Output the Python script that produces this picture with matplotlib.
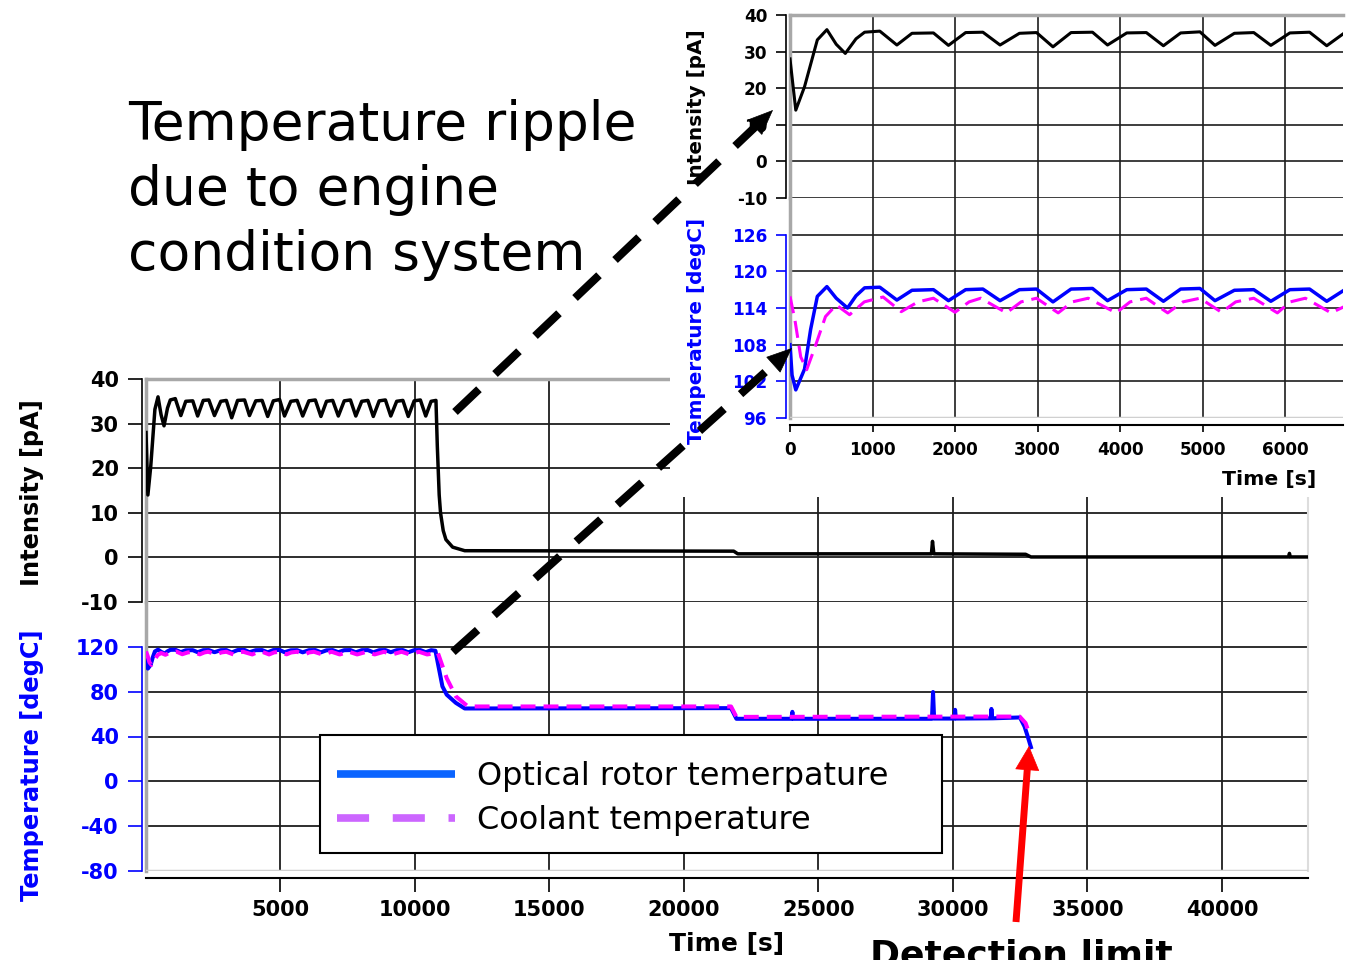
import numpy as np
import matplotlib
matplotlib.use("Agg")
import matplotlib.pyplot as plt
from matplotlib.lines import Line2D
from matplotlib.patches import Rectangle, FancyArrowPatch

plt.rcParams['font.family'] = ['DejaVu Sans']

W, H = 1352, 960

# ---------------------------------------------------------------- series
# sensor photo-current [pA] versus time [s]
intensity_t = [0, 70, 176, 331, 447, 560, 670, 800, 904, 1088, 1295, 1478, 1738, 1920,
               2128, 2337, 2545, 2780, 2987, 3186, 3405, 3665, 3847, 4080, 4317, 4524,
               4733, 4967, 5149, 5384, 5619, 5826, 6056, 6295, 6503, 6711, 6940, 7150,
               7370, 7600, 7800, 8020, 8250, 8450, 8670, 8900, 9100, 9320, 9550, 9750,
               9970, 10200, 10400, 10600, 10780, 10830, 10900, 10950, 11050, 11150,
               11400, 11850, 21850, 22000, 29200, 29240, 29290, 32700, 32900, 42480,
               42510, 42540, 43200]
intensity_v = [28.0, 14.0, 20.4, 33.2, 36.0, 32.0, 29.5, 33.5, 35.3, 35.6, 31.8, 35.0,
               35.1, 31.7, 35.2, 35.3, 31.8, 35.0, 35.2, 31.3, 35.2, 35.3, 31.8, 35.1,
               35.2, 31.6, 35.1, 35.4, 31.7, 35.0, 35.2, 31.7, 35.1, 35.3, 31.6, 35.0,
               35.2, 31.7, 35.1, 35.3, 31.7, 35.0, 35.2, 31.6, 35.1, 35.3, 31.7, 35.0,
               35.2, 31.6, 35.1, 35.3, 31.7, 35.0, 35.2, 25.0, 14.0, 10.0, 6.0, 4.0,
               2.3, 1.5, 1.4, 0.8, 0.8, 3.6, 0.8, 0.7, 0.1, 0.1, 0.9, 0.1, 0.1]

# optical rotor temperature [degC]
rotor_t = [0, 25, 70, 176, 250, 331, 447, 560, 697, 800, 904, 1088, 1295, 1478, 1738,
           1920, 2128, 2337, 2545, 2780, 2987, 3186, 3405, 3665, 3847, 4080, 4317, 4524,
           4733, 4967, 5149, 5384, 5619, 5826, 6056, 6295, 6503, 6711, 6940, 7150, 7370,
           7600, 7800, 8020, 8250, 8450, 8670, 8900, 9100, 9320, 9550, 9750, 9970,
           10200, 10400, 10600, 10760, 11020, 11180, 11520, 11850, 21750, 21950, 24000,
           24030, 24060, 29220, 29260, 29300, 30060, 30080, 30110, 31410, 31430, 31460,
           32490, 32660, 32780, 32900]
rotor_v = [108.0, 103.0, 100.6, 104.0, 110.5, 115.9, 117.5, 115.6, 114.0, 116.0, 117.3,
           117.4, 115.3, 116.9, 117.0, 115.2, 117.0, 117.1, 115.2, 117.0, 117.1, 115.0,
           117.1, 117.2, 115.2, 117.0, 117.1, 115.1, 117.1, 117.2, 115.2, 116.9, 117.0,
           115.1, 117.0, 117.1, 115.1, 116.9, 117.1, 115.2, 117.0, 117.1, 115.1, 117.0,
           117.1, 115.1, 117.0, 117.1, 115.2, 117.0, 117.1, 115.1, 117.0, 117.1, 115.2,
           117.0, 116.5, 84.7, 77.3, 70.0, 65.0, 65.3, 55.8, 55.8, 62.0, 55.8, 55.8,
           79.7, 56.0, 56.0, 63.8, 56.0, 56.2, 64.6, 56.2, 57.0, 49.0, 40.0, 30.5]

# coolant temperature [degC]
coolant_t = [0, 60, 130, 202, 300, 430, 560, 722, 900, 1128, 1348, 1550, 1738, 1999,
             2170, 2311, 2622, 2800, 2987, 3249, 3420, 3613, 3951, 4120, 4317, 4576,
             4760, 4967, 5228, 5400, 5619, 5905, 6060, 6244, 6556, 6711, 6900, 7200,
             7550, 7850, 8200, 8500, 8850, 9150, 9500, 9800, 10150, 10450, 10850, 11180,
             11520, 11930, 12100, 21750, 21950, 32480, 32700, 32870]
coolant_v = [115.9, 112.0, 106.0, 103.9, 107.5, 112.6, 114.5, 112.9, 115.0, 115.8,
             113.4, 115.0, 115.6, 113.3, 115.0, 115.6, 113.2, 115.0, 115.6, 113.2,
             115.0, 115.6, 113.2, 115.0, 115.6, 113.2, 115.0, 115.6, 113.3, 115.0,
             115.6, 113.2, 115.0, 115.6, 113.2, 114.2, 115.6, 113.2, 115.6, 113.2,
             115.6, 113.2, 115.6, 113.2, 115.6, 113.2, 115.6, 113.2, 114.7, 92.0,
             75.8, 67.6, 66.8, 66.8, 57.5, 57.8, 52.0, 40.3]

# axis ticks
main_xticks = [5000, 10000, 15000, 20000, 25000, 30000, 35000, 40000]
intensity_ticks = [-10, 0, 10, 20, 30, 40]
main_temp_ticks = [-80, -40, 0, 40, 80, 120]
zoom_xticks = [0, 1000, 2000, 3000, 4000, 5000, 6000]
zoom_temp_ticks = [96, 102, 108, 114, 120, 126]

legend_labels = ['Optical rotor temerpature', 'Coolant temperature']

BLUE = '#0000ff'
MAGENTA = '#ff00ff'
GRID = '#1e1e1e'
FRAME = '#a8a8a8'

fig = plt.figure(figsize=(W / 100, H / 100), dpi=100)
fig.patch.set_facecolor('white')


def px_box(x0, y0, x1, y1):
    return [x0 / W, 1 - y1 / H, (x1 - x0) / W, (y1 - y0) / H]


def panel(xs, ys, xlim, xticks, temp_lim, temp_ticks, st, z):
    x0, x1 = xs
    y_top, y_mid, y_bot = ys
    ax_i = fig.add_axes(px_box(x0, y_top, x1, y_mid), zorder=z)
    ax_t = fig.add_axes(px_box(x0, y_mid, x1, y_bot), sharex=ax_i, zorder=z)
    for ax in (ax_i, ax_t):
        ax.set_xlim(*xlim)
        ax.grid(True, color=GRID, lw=st['grid'])
        ax.set_axisbelow(True)
        ax.spines['right'].set_visible(st['right'])
        ax.spines['right'].set_color('#dddddd')
        ax.spines['right'].set_linewidth(1.5)
        ax.axvline(xlim[0], color=FRAME, lw=st['frame'], zorder=2.6, clip_on=False)
        ax.spines['left'].set_position(('outward', st['off']))
        ax.spines['left'].set_linewidth(1.2)

    # intensity part
    ax_i.set_ylim(-10, 40)
    ax_i.set_yticks(intensity_ticks, labels=[str(v) for v in intensity_ticks],
                    fontsize=st['fs'], fontweight='bold')
    ax_i.spines['bottom'].set_visible(False)
    ax_i.spines['top'].set_color(FRAME)
    ax_i.spines['top'].set_linewidth(st['frame'])
    ax_i.spines['left'].set_color('black')
    ax_i.tick_params(axis='x', bottom=False, labelbottom=False)
    ax_i.tick_params(axis='y', direction='out', length=st['tl'], width=1.2,
                     pad=st['pad'], colors='black')
    ax_i.plot(intensity_t, intensity_v, color='black', lw=st['lw_k'],
              solid_joinstyle='round', zorder=3)

    # temperature part
    ax_t.set_ylim(*temp_lim)
    ax_t.set_yticks(temp_ticks, labels=[str(v) for v in temp_ticks],
                    fontsize=st['fs'], fontweight='bold')
    ax_t.spines['top'].set_visible(False)
    ax_t.spines['left'].set_color(BLUE)
    ax_t.spines['left'].set_bounds(temp_ticks[0], temp_ticks[-1])
    ax_t.spines['bottom'].set_position(('outward', st['xoff']))
    ax_t.spines['bottom'].set_linewidth(1.5)
    ax_t.tick_params(axis='y', direction='out', length=st['tl'], width=1.2,
                     pad=st['pad'], colors=BLUE)
    ax_t.set_xticks(xticks, labels=[str(v) for v in xticks],
                    fontsize=st['fs'], fontweight='bold')
    ax_t.tick_params(axis='x', direction='out', length=st['xtl'], width=1.2,
                     pad=st['xpad'], colors='black')
    ax_t.axhline(temp_lim[0], color='#d0d0d0', lw=st['frame'], zorder=2.6)
    ax_t.plot(rotor_t, rotor_v, color=BLUE, lw=st['lw_b'], zorder=3)
    ax_t.plot(coolant_t, coolant_v, color=MAGENTA, lw=st['lw_m'],
              dashes=st['dash_m'], zorder=3.2)
    return ax_i, ax_t


main_style = dict(fs=15, tl=10, pad=6.5, off=3, xoff=5, xtl=10, xpad=6, grid=1.3,
                  frame=2.5, right=True, lw_k=2.5, lw_b=2.9, lw_m=2.9, dash_m=(3.7, 2.0))
zoom_style = dict(fs=12.2, tl=7, pad=6.5, off=3, xoff=5, xtl=5, xpad=6.5, grid=1.2,
                  frame=2.5, right=False, lw_k=2.2, lw_b=2.5, lw_m=2.2, dash_m=(5.6, 2.6))

# full 12 h record
m_i, m_t = panel((146, 1308), (379, 602, 871), (0, 43200), main_xticks,
                 (-80, 160), main_temp_ticks, main_style, 0)

# legend box and entries
m_t.add_artist(Rectangle((320 / W, 1 - 853 / H), 622 / W, 118 / H,
                         transform=fig.transFigure, facecolor='white',
                         edgecolor='black', lw=1.5, zorder=4, clip_on=False))
legend_handles = [Line2D([], [], color='#0a64ff', lw=5.5, solid_capstyle='butt'),
                  Line2D([], [], color='#cc66ff', lw=5.5, dashes=(4.2, 3.1),
                         dash_capstyle='butt')]
leg = m_t.legend(legend_handles, legend_labels, loc='upper left',
                 bbox_to_anchor=(337 / W, 1 - 761 / H),
                 bbox_transform=fig.transFigure, borderaxespad=0, borderpad=0,
                 fontsize=23, handlelength=3.7, handletextpad=0.69,
                 labelspacing=0.41, frameon=False)
leg.set_zorder(5)

# blank area hosting the zoomed view
fig.add_artist(Rectangle((670 / W, 1 - 497 / H), (W - 670) / W, 497 / H,
                         transform=fig.transFigure, facecolor='white',
                         edgecolor='none', zorder=1))

# first ~2 h, zoomed
z_i, z_t = panel((790, 1343), (15, 198, 418), (0, 6700), zoom_xticks,
                 (96, 132), zoom_temp_ticks, zoom_style, 2)

# axis titles
fig.text(32 / W, 1 - 493 / H, 'Intensity [pA]', rotation=90, ha='center', va='center',
         fontsize=17.3, fontweight='bold', color='black')
fig.text(32 / W, 1 - 765 / H, 'Temperature [degC]', rotation=90, ha='center',
         va='center', fontsize=17.3, fontweight='bold', color=BLUE)
fig.text(727 / W, 1 - 944 / H, 'Time [s]', ha='center', va='center', fontsize=18,
         fontweight='bold')
fig.text(697 / W, 1 - 107 / H, 'Intensity [pA]', rotation=90, ha='center', va='center',
         fontsize=14.4, fontweight='bold', color='black', zorder=3)
fig.text(697 / W, 1 - 331 / H, 'Temperature [degC]', rotation=90, ha='center',
         va='center', fontsize=14.4, fontweight='bold', color=BLUE, zorder=3)
fig.text(1269 / W, 1 - 479 / H, 'Time [s]', ha='center', va='center', fontsize=14.7,
         fontweight='bold', zorder=3)

# annotation text
for txt, base in [('Temperature ripple', 140), ('due to engine', 205),
                  ('condition system', 270)]:
    fig.text(128 / W, 1 - base / H, txt, ha='left', va='baseline', fontsize=38.5,
             zorder=3)
fig.text(870 / W, -6 / H, 'Detection limit', ha='left', va='baseline', fontsize=26,
         fontweight='bold', zorder=3)


def arrow(tail, tip, color, lw_pt, head_len, head_w, dashes=None, z=5):
    (x0, y0), (x1, y1) = tail, tip
    d = np.hypot(x1 - x0, y1 - y0)
    ux, uy = (x1 - x0) / d, (y1 - y0) / d
    bx, by = x1 - ux * head_len, y1 - uy * head_len
    shaft = Line2D([x0 / W, (bx + ux * 3) / W], [1 - y0 / H, 1 - (by + uy * 3) / H],
                   transform=fig.transFigure, color=color, lw=lw_pt,
                   solid_capstyle='butt', dash_capstyle='butt', zorder=z)
    if dashes:
        shaft.set_dashes(dashes)
    fig.add_artist(shaft)
    style = f'-|>,head_length={head_len * 0.72:.2f},head_width={head_w * 0.36:.2f}'
    head = FancyArrowPatch((bx / W, 1 - by / H), (x1 / W, 1 - y1 / H),
                           transform=fig.transFigure, arrowstyle=style,
                           mutation_scale=1, color=color, lw=0.5,
                           shrinkA=0, shrinkB=0, zorder=z)
    fig.add_artist(head)


arrow((455, 412), (773, 110), 'black', 5.8, 24, 20, dashes=(4.1, 2.75))
arrow((453, 652), (792, 348), 'black', 5.8, 24, 20, dashes=(4.1, 2.75))
arrow((1016, 922), (1029, 746), '#ff0000', 5.0, 23, 23)

fig.savefig('out.png', dpi=100, facecolor='white')
